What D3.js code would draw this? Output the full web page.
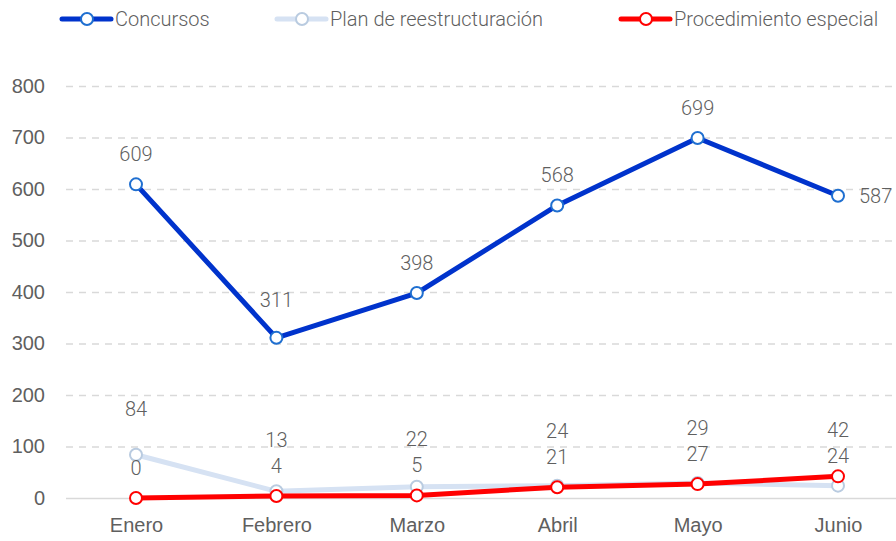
<!doctype html>
<html>
<head>
<meta charset="utf-8">
<script src="https://cdnjs.cloudflare.com/ajax/libs/d3/7.8.5/d3.min.js"></script>
<style>
  body { margin: 0; background: #fff; }
  svg { font-family: Roboto, "Open Sans", sans-serif; font-weight: 300; }
  .tick text { fill: #5f5f5f; font-size: 20px; }
  .lbl { fill: #5f5f5f; font-size: 20px; }
</style>
</head>
<body>
<svg width="896" height="541"></svg>
<script>
// datos
var meses = ["Enero", "Febrero", "Marzo", "Abril", "Mayo", "Junio"];
var concursos = [609, 311, 398, 568, 699, 587];
var planReestructuracion = [84, 13, 22, 24, 29, 24];
var procedimientoEspecial = [0, 4, 5, 21, 27, 42];
var yTicks = [0, 100, 200, 300, 400, 500, 600, 700, 800];

var series = [
  { name: "Plan de reestructuración", values: planReestructuracion, line: "#d6e2f3", mark: "#b9cbe0", lx: 277 },
  { name: "Procedimiento especial", values: procedimientoEspecial, line: "#ff0000", mark: "#ff0000", lx: 621 },
  { name: "Concursos", values: concursos, line: "#0033cc", mark: "#1f6fd0", lx: 62 }
];

var svg = d3.select("svg");
var x = d3.scalePoint().domain(meses).range([136, 838]);
var y = d3.scaleLinear().domain([0, 800]).range([498, 86]);

// eje y + rejilla
var gy = svg.append("g").attr("transform", "translate(66,0)")
  .call(d3.axisLeft(y).tickValues(yTicks).tickSize(-840));
gy.select(".domain").remove();
gy.selectAll(".tick line").attr("stroke", "#d9d9d9").attr("stroke-width", 1.3)
  .attr("stroke-dasharray", function(d) { return d == 0 ? null : "7,6"; });
gy.selectAll(".tick text").attr("x", -21);

// eje x
var gx = svg.append("g").attr("transform", "translate(0,498)")
  .call(d3.axisBottom(x).tickSize(0).tickPadding(20));
gx.select(".domain").remove();

var line = d3.line().x(function(d, i) { return x(meses[i]); }).y(function(d) { return y(d); });

series.forEach(function(s) {
  svg.append("path").datum(s.values).attr("d", line)
    .attr("fill", "none").attr("stroke", s.line).attr("stroke-width", 5)
    .attr("stroke-linejoin", "round");
  svg.selectAll(null).data(s.values).enter().append("circle")
    .attr("cx", function(d, i) { return x(meses[i]); })
    .attr("cy", function(d) { return y(d); })
    .attr("r", 6).attr("fill", "#fff").attr("stroke", s.mark).attr("stroke-width", 2);
});

// etiquetas Concursos
svg.selectAll(null).data(concursos).enter().append("text").attr("class", "lbl")
  .attr("x", function(d, i) { return i == concursos.length - 1 ? x(meses[i]) + 21 : x(meses[i]); })
  .attr("y", function(d, i) { return i == concursos.length - 1 ? y(d) : y(d) - (i == 1 ? 38 : 30); })
  .attr("dy", "0.35em")
  .attr("text-anchor", function(d, i) { return i == concursos.length - 1 ? "start" : "middle"; })
  .text(function(d) { return d; });

// etiquetas de las series pequeñas: el mayor arriba
meses.forEach(function(m, i) {
  var a = planReestructuracion[i], b = procedimientoEspecial[i];
  var hi = Math.max(a, b), lo = Math.min(a, b);
  var yLo = y(lo) - 30;
  var yHi = Math.min(yLo - 26, y(hi) - 46);
  [[hi, yHi], [lo, yLo]].forEach(function(p) {
    svg.append("text").attr("class", "lbl").attr("x", x(m)).attr("y", p[1])
      .attr("dy", "0.35em").attr("text-anchor", "middle").text(p[0]);
  });
});

// leyenda
var legendOrder = [series[2], series[0], series[1]];
legendOrder.forEach(function(s) {
  var g = svg.append("g").attr("transform", "translate(" + s.lx + ",19)");
  g.append("line").attr("x1", 0).attr("x2", 49).attr("stroke", s.line)
    .attr("stroke-width", 5).attr("stroke-linecap", "round");
  g.append("circle").attr("cx", 25).attr("r", 6).attr("fill", "#fff")
    .attr("stroke", s.mark).attr("stroke-width", 2);
  g.append("text").attr("class", "lbl").attr("x", 53).attr("dy", "0.35em").text(s.name);
});
</script>
</body>
</html>
